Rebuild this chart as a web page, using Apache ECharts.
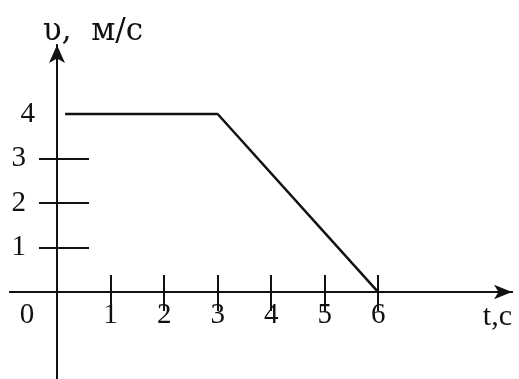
<!DOCTYPE html>
<html>
<head>
<meta charset="utf-8">
<script src="https://cdn.jsdelivr.net/npm/echarts@6/dist/echarts.min.js"></script>
<style>
  html, body { margin: 0; padding: 0; background: #fff; }
  #chart { width: 519px; height: 379px; }
</style>
</head>
<body>
<div id="chart"></div>
<script>
// v(t) graph: points of the broken line
var tPoints = [0.15, 3, 6];
var vPoints = [4, 4, 0];
// tick marks and labels
var tTicks = [0, 1, 2, 3, 4, 5, 6];
var vTicks = [1, 2, 3];
var vLabels = [1, 2, 3, 4];

var ink = '#111';
var font = '"Liberation Serif", "DejaVu Serif", serif';

function initChart() {
    var chart = echarts.init(document.getElementById('chart'));
    var lineData = tPoints.map(function (t, i) { return [t, vPoints[i]]; });

    // axes are shifted into the grid so they cross at (0,0)
    var xOffset = -87;   // 379 - 292
    var yOffset = -47;

    var option = {
        animation: false,
        grid: { left: 10, right: 7, top: 45, bottom: 0, containLabel: false, outerBoundsMode: 'none' },
        xAxis: [{
            type: 'value', min: -0.88, max: 8.5, position: 'bottom', offset: xOffset,
            name: 't,c', nameLocation: 'end', nameGap: 0,
            nameTextStyle: { color: ink, fontFamily: font, fontSize: 30, align: 'right', verticalAlign: 'top', padding: [10, 0, 0, 0] },
            axisLine: { onZero: false, symbol: ['none', 'arrow'], symbolSize: [11, 18], lineStyle: { color: ink, width: 2 } },
            axisTick: { show: true, inside: false, length: 19, customValues: tTicks, lineStyle: { color: ink, width: 2 } },
            axisLabel: {
                customValues: tTicks, margin: 9, color: ink, fontFamily: font, fontSize: 29,
                formatter: function (v) { return v === 0 ? '{z|0}' : String(v); },
                rich: { z: { fontFamily: font, fontSize: 29, color: ink, padding: [0, 60, 0, 0] } }
            },
            splitLine: { show: false }
        }, {
            type: 'value', min: -0.88, max: 8.5, position: 'bottom', offset: xOffset,
            axisLine: { onZero: false, lineStyle: { color: ink, width: 2 } },
            axisTick: { show: true, inside: true, length: 17, customValues: tTicks, lineStyle: { color: ink, width: 2 } },
            axisLabel: { show: false },
            splitLine: { show: false }
        }],
        yAxis: [{
            type: 'value', min: -1.95, max: 5.55, position: 'left', offset: yOffset,
            name: 'υ,  м/с', nameLocation: 'end', nameGap: -2,
            nameTextStyle: { color: ink, fontFamily: '"DejaVu Serif", serif', fontSize: 31, align: 'center', verticalAlign: 'bottom', padding: [0, 0, 0, 72] },
            axisLine: { onZero: false, symbol: ['none', 'arrow'], symbolSize: [12, 18], lineStyle: { color: ink, width: 2 } },
            axisTick: { show: true, inside: false, length: 18, customValues: vTicks, lineStyle: { color: ink, width: 2 } },
            axisLabel: {
                customValues: vLabels, margin: 22, color: ink, fontFamily: font, fontSize: 29,
                formatter: function (v) { return v === 4 ? '4' : '{s|' + v + '}'; },
                rich: { s: { fontFamily: font, fontSize: 29, color: ink, padding: [0, 9, 0, 0] } }
            },
            splitLine: { show: false }
        }, {
            type: 'value', min: -1.95, max: 5.55, position: 'left', offset: yOffset,
            axisLine: { onZero: false, lineStyle: { color: ink, width: 2 } },
            axisTick: { show: true, inside: true, length: 32, customValues: vTicks, lineStyle: { color: ink, width: 2 } },
            axisLabel: { show: false },
            splitLine: { show: false }
        }],
        series: [{
            type: 'line',
            xAxisIndex: 0, yAxisIndex: 0,
            data: lineData,
            symbol: 'none',
            lineStyle: { color: ink, width: 2.5 }
        }]
    };
    chart.setOption(option);
}

initChart();
</script>
</body>
</html>
